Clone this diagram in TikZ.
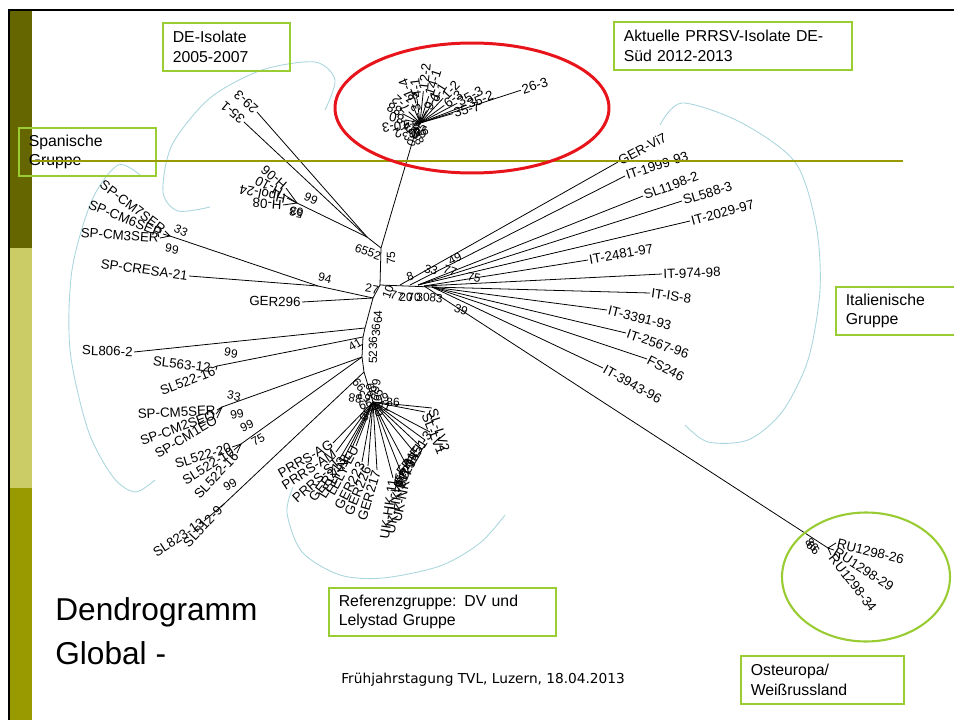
\documentclass[tikz,border=0pt]{standalone}
\usepackage{fontspec}
\setmainfont{Liberation Sans}
\newfontfamily\footfont{DejaVu Sans}
\usetikzlibrary{calc,positioning}
\definecolor{boxgreen}{HTML}{9ACD32}
\definecolor{barolive}{HTML}{999900}
\definecolor{bardark}{HTML}{666600}
\definecolor{barlight}{HTML}{CCCC66}
\definecolor{hullblue}{HTML}{A9D6DD}
\definecolor{ringred}{HTML}{E8141B}
\definecolor{ringgreen}{HTML}{99CC33}
\tikzset{
  leaf/.style={font=\fontsize{7.6}{8}\selectfont, inner sep=0.6pt},
  boot/.style={font=\fontsize{6.8}{7}\selectfont, inner sep=0pt},
  branch/.style={line width=0.45pt},
  hull/.style={hullblue, line width=0.5pt},
  groupbox/.style={draw=boxgreen, line width=0.9pt, anchor=north west, align=left,
    inner xsep=0.2cm, inner ysep=0pt, minimum height=0.96cm, font=\fontsize{9}{11}\selectfont},
}

\begin{document}
\begin{tikzpicture}[x=0.02cm,y=-0.02cm]
  \useasboundingbox (0,0) rectangle (954,720);
  % slide frame
  \fill[bardark] (10,10) rectangle (32,248);
  \fill[barlight] (10,248) rectangle (32,488);
  \fill[barolive] (10,488) rectangle (32,720);
  \draw[line width=1.4pt] (9,720) -- (9,10) -- (954,10);

  % group hulls
  \draw[hull] plot[smooth] coordinates {(210,207) (178,211) (163,192) (172,145) (210,98) (262,70) (315,62) (335,80) (325,110)};
  \draw[hull] plot[smooth] coordinates {(140,175) (118,165) (92,200) (72,270) (70,350) (88,430) (113,477) (135,492) (155,480)};
  \draw[hull] plot[smooth] coordinates {(660,125) (682,103) (740,122) (795,162) (816,225) (820,290) (808,360) (782,412) (748,440) (708,442) (685,425)};
  \draw[hull] plot[smooth] coordinates {(293,487) (287,513) (302,552) (340,575) (383,578) (440,566) (480,543) (505,515)};

  % inner nodes
  \coordinate (c1) at (420,123);
  \coordinate (c0) at (415,133);
  \coordinate (n1) at (381,248);
  \coordinate (n1a) at (367,237);
  \coordinate (hn) at (297,203);
  \coordinate (n2) at (380,285);
  \coordinate (i1) at (400,285);
  \coordinate (i2) at (410,285);
  \coordinate (i3) at (418,285);
  \coordinate (i3b) at (424,286);
  \coordinate (i4) at (432,287);
  \coordinate (n4) at (373,298);
  \coordinate (spn) at (318,286);
  \coordinate (spa) at (170,236);
  \coordinate (n5) at (365,328);
  \coordinate (n6) at (363,337);
  \coordinate (n7) at (362,357);
  \coordinate (n9) at (364,372);
  \coordinate (rf) at (373,402);
  \coordinate (sla) at (217,366);
  \coordinate (spb) at (222,407);
  \coordinate (slb) at (241,444);
  \coordinate (slc) at (224,504);
  \coordinate (run) at (828,548);

  \draw[branch] (c1) -- (c0) -- (n1) -- (n2) -- (i4);
  \draw[branch] (n2) -- (n4) -- (n5) -- (n6) -- (n7) -- (n9) -- (rf);
  \draw[branch] (n1) -- (n1a) -- (hn);
  \draw[branch] (n4) -- (spn) -- (spa);
  \draw[branch] (n6) -- (sla);
  \draw[branch] (n7) -- (spb);
  \draw[branch] (n7) -- (slb);
  \draw[branch] (n9) -- (slc);
  \draw[branch] (i3b) -- (run);

  % Italian leaves
  \foreach \pos/\rot/\src/\txt [count=\k] in {
      {(618,162)}/28/i1/GER-Vi7, {(625,176)}/18/i2/IT-1999-93, {(643,196)}/20/i3/SL1198-2,
      {(682,201)}/17/i3/SL588-3, {(690,221)}/15/i3/IT-2029-97, {(588,260)}/10/i3b/IT-2481-97,
      {(662,274)}/2/i3b/IT-974-98, {(650,293)}/-8/i4/IT-IS-8, {(607,310)}/-14/i4/IT-3391-93,
      {(626,333)}/-19/i4/IT-2567-96, {(647,359)}/-27/i4/FS246, {(603,368)}/-29/i4/IT-3943-96}{
    \node[leaf, anchor=west, rotate=\rot] (it\k) at \pos {\txt};
    \draw[branch] (\src) -- (it\k.west);
  }

  % DE 2005-2007 leaves
  \node[leaf, anchor=west, rotate=138] (de293) at (257,112) {29-3};
  \node[leaf, anchor=west, rotate=140] (de351) at (244,122) {35-1};
  \draw[branch] (n1a) -- (de293.west);
  \draw[branch] (n1a) -- (de351.west);
  \foreach \pos/\rot/\txt [count=\k] in {{(286,188)}/139/H-06, {(283,194)}/152/H-10,
      {(287,198)}/168/Hpol-24, {(283,205)}/176/H-08}{
    \node[leaf, anchor=west, rotate=\rot] (hl\k) at \pos {\txt};
    \draw[branch] (hn) -- (hl\k.west);
  }
  \node[boot, rotate=-25] (b99h) at (311,199) {99};
  \node[boot, rotate=170] (b58h) at (296,213) {58};
  \node[boot, rotate=175] (b63h) at (297,212) {63};

  % Spanish leaves
  \node[leaf, anchor=east, rotate=-37] (spcm7) at (165,231) {SP-CM7SER};
  \node[leaf, anchor=east, rotate=-22] (spcm6) at (163,234) {SP-CM6SER};
  \node[leaf, anchor=east, rotate=-4] (spcm3) at (160,238) {SP-CM3SER};
  \foreach \lf in {spcm7,spcm6,spcm3}{\draw[branch] (spa) -- (\lf.east);}
  \node[leaf, anchor=east, rotate=-8] (spcresa) at (189,276) {SP-CRESA-21};
  \draw[branch] (spn) -- (spcresa.east);
  \node[leaf, anchor=east, rotate=-1] (ger296) at (302,302) {GER296};
  \draw[branch] (n4) -- (ger296.east);
  \node[leaf, anchor=east, rotate=-2] (sl806) at (134,352) {SL806-2};
  \draw[branch] (n5) -- (sl806.east);

  % SL and SP-CM lower leaves
  \foreach \pos/\rot/\src/\txt [count=\k] in {
      {(212,368)}/-7/sla/SL563-12, {(216,370)}/21/sla/SL522-16,
      {(217,410)}/3/spb/SP-CM5SER, {(216,414)}/20/spb/SP-CM2SEO, {(217,418)}/31/spb/SP-CM1EO,
      {(232,447)}/17/slb/SL522-20, {(234,450)}/32/slb/SL522-10, {(237,453)}/47/slb/SL522-16,
      {(204,521)}/33/slc/SL823-13, {(221,507)}/47/slc/SL512-9}{
    \node[leaf, anchor=east, rotate=\rot] (sl\k) at \pos {\txt};
    \draw[branch] (\src) -- (sl\k.east);
  }

  % bootstrap values
  \foreach \pos/\rot/\txt [count=\k] in {
      {(181,231)}/-25/33, {(172,249)}/-10/99, {(325,278)}/-12/94, {(231,353)}/-10/99,
      {(234,396)}/-10/33, {(237,414)}/12/99, {(247,426)}/25/99, {(258,440)}/30/75, {(230,485)}/30/99,
      {(368,252)}/-20/6552, {(391,258)}/90/75, {(372,289)}/-10/27, {(388,292)}/70/10, {(397,296)}/-10/77,
      {(406,297)}/0/20, {(414,297)}/0/70, {(423,297)}/0/30, {(436,298)}/-5/83,
      {(410,276)}/20/8, {(431,270)}/-15/33, {(455,259)}/25/49, {(450,271)}/-20/77, {(474,278)}/-10/75,
      {(461,310)}/-20/39, {(378,317)}/90/64, {(376,330)}/90/36, {(373,343)}/90/36, {(355,345)}/30/41,
      {(373,357)}/90/52, {(812,545)}/-50/86, {(813,548)}/-40/66}{
    \node[boot, rotate=\rot] (bs\k) at \pos {\txt};
  }

  % current isolates DE-Sued
  \foreach \a/\r/\t [count=\k] in {18/106/26-3, 21/50/35-2, 16/34/35-7, 28/42/35-3, 36/30/6-3,
      47/34/1-2, 58/24/6-1, 72/28/14-1, 84/32/12-2, 97/24/4-1, 112/20/11-4, 135/16/7-2,
      152/20/88, 168/15/80, 188/10/10-3, 205/8/2-2, 62/14/9-1, 105/10/3-3}{
    \node[leaf, anchor=west, rotate=\a] (rc\k) at ($(c1)+({-\a}:\r)$) {\t};
    \draw[branch] (c1) -- (rc\k.west);
  }
  \foreach \a/\r/\t [count=\k] in {10/7/16, 40/6/65, 80/6/36, 140/7/24, 200/6/63, 250/7/30, 300/6/38, 350/5/99}{
    \node[boot, rotate=\a] (rb\k) at ($(c0)+({-\a}:\r)$) {\t};
  }

  % reference group DV / Lelystad
  \foreach \pos/\rot/\txt [count=\k] in {
      {(333,443)}/30/PRRS-AG, {(336,452)}/33/PRRS-AM, {(339,460)}/42/PRRS-ST, {(344,458)}/52/GER213,
      {(350,452)}/58/LELY-NL, {(356,446)}/62/LELY-EU, {(362,462)}/63/GER223, {(368,466)}/68/GER226,
      {(377,470)}/73/GER217, {(393,478)}/82/UK-HK-11, {(401,472)}/80/UK-HK-65, {(408,468)}/78/UK-NK-7,
      {(414,452)}/68/SD-01, {(420,446)}/62/VR-2385, {(425,440)}/58/FR-EL-1, {(430,432)}/54/FR-EL-3}{
    \node[leaf, anchor=east, rotate=\rot] (rg\k) at \pos {\txt};
    \draw[branch] (rf) -- (rg\k.east);
  }
  \node[leaf, anchor=west, rotate=-68] (rgsl1) at (425,412) {SL-LV1};
  \node[leaf, anchor=west, rotate=-72] (rgsl2) at (432,408) {SL-LV2};
  \draw[branch] (rf) -- (rgsl1.west);
  \draw[branch] (rf) -- (rgsl2.west);
  \foreach \a/\r/\t [count=\k] in {20/10/99, 60/8/65, 100/12/99, 150/10/63, 200/8/99, 240/14/58,
      300/10/99, 340/12/41, 0/20/86, 130/22/99, 170/18/88, 80/16/99}{
    \node[boot, rotate=\a] (rfb\k) at ($(rf)+({-\a}:\r)$) {\t};
  }

  % Eastern Europe
  \node[leaf, anchor=west, rotate=-14] (ru26) at (836,543) {RU1298-26};
  \node[leaf, anchor=west, rotate=-33] (ru29) at (834,550) {RU1298-29};
  \node[leaf, anchor=west, rotate=-52] (ru34) at (831,555) {RU1298-34};
  \foreach \lf in {ru26,ru29,ru34}{\draw[branch] (run) -- (\lf.west);}

  % group labels
  \node[groupbox, text width=2.14cm] (deiso) at (162,22) {DE-Isolate\\2005-2007};
  \node[groupbox, text width=4.36cm] (aktuell) at (613,21) {Aktuelle PRRSV-Isolate DE-\\Süd 2012-2013};
  \node[groupbox, text width=2.34cm] (spanisch) at (18,127) {Spanische\\Gruppe};
  \node[groupbox, text width=2.2cm] (italien) at (835,286) {Italienische\\Gruppe};
  \node[groupbox, text width=4.14cm] (referenz) at (328,587) {Referenzgruppe: DV und\\Lelystad Gruppe};
  \node[groupbox, text width=2.86cm] (osteuropa) at (740,655) {Osteuropa/\\Weißrussland};

  \draw[barolive, line width=1.5pt] (32,161) -- (903,161);
  \draw[ringred, line width=1.7pt] (472,108) ellipse [x radius=2.74cm, y radius=1.3cm];
  \draw[ringgreen, line width=1.2pt] (866,577) ellipse [x radius=1.68cm, y radius=1.29cm];

  \node[anchor=north west, inner sep=0pt, align=left, font=\fontsize{18}{25}\selectfont] (title) at (55,597) {Dendrogramm\\Global -};
  \node[anchor=north west, inner sep=0pt, font=\footfont\fontsize{7.8}{9}\selectfont] (footer) at (341,673) {Frühjahrstagung TVL, Luzern, 18.04.2013};
\end{tikzpicture}
\end{document}
